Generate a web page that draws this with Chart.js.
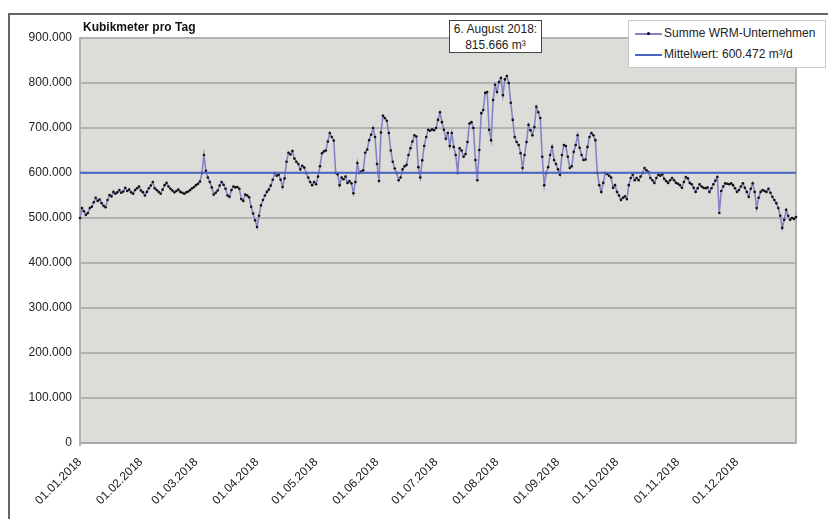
<!DOCTYPE html>
<html lang="de">
<head>
  <meta charset="UTF-8">
  <title>Kubikmeter pro Tag</title>
  <style>
    body {
      margin: 0;
      background: #fff;
      font-family: Arial, 'Liberation Sans', sans-serif;
    }
    .wrap {
      position: relative;
      width: 828px;
      height: 519px;
      overflow: hidden;
    }
    .frame {
      position: absolute;
      left: 8px;
      top: 13px;
      width: 900px;
      height: 600px;
      border-left: 2px solid #666;
      border-top: 2px solid #666;
    }
    canvas {
      position: absolute;
      left: 0;
      top: 0;
    }
    .title {
      position: absolute;
      left: 83px;
      top: 20px;
      font-size: 12px;
      font-weight: bold;
      color: #111;
    }
    .note {
      position: absolute;
      left: 449px;
      top: 20px;
      width: 91px;
      height: 31px;
      border: 1.5px solid #444;
      background: #fff;
      font-size: 12px;
      line-height: 16px;
      text-align: center;
      color: #222;
    }
    .legend {
      position: absolute;
      left: 628px;
      top: 20px;
      width: 196px;
      height: 46px;
      border: 1px solid #c8c8c8;
      background: #fff;
      font-size: 12px;
      color: #222;
    }
    .legend .row {
      position: absolute;
      left: 6px;
      height: 16px;
      line-height: 16px;
      white-space: nowrap;
    }
    .legend .sample {
      display: inline-block;
      position: relative;
      width: 27px;
      height: 2px;
      vertical-align: middle;
      margin-right: 2px;
    }
    .legend .dot {
      position: absolute;
      left: 12px;
      top: -1px;
      width: 3px;
      height: 3px;
      border-radius: 50%;
      background: #000;
    }
  </style>
  <script src="https://cdn.jsdelivr.net/npm/chart.js"></script>
</head>
<body>
  <div class="wrap">
    <div class="frame"></div>
    <canvas id="chart" width="828" height="519"></canvas>
    <div class="title">Kubikmeter pro Tag</div>
    <div class="note">6. August 2018:<br>815.666 m³</div>
    <div class="legend">
      <div class="row" style="top:4px"><span class="sample" style="background:#8484c4"><span class="dot"></span></span>Summe WRM-Unternehmen</div>
      <div class="row" style="top:25px"><span class="sample" style="background:#4a64c4"></span>Mittelwert: 600.472 m³/d</div>
    </div>
  </div>

  <script>
    // daily totals 2018, in thousand m³
    const jan = [500, 522, 515, 507, 511, 522, 525, 535, 545, 538, 541, 533, 527, 524, 540, 551, 548, 558, 554, 557, 562, 556, 559, 567, 560, 563, 557, 554, 562, 566, 570];
    const feb = [561, 557, 550, 558, 566, 572, 580, 566, 562, 558, 554, 563, 573, 578, 570, 565, 561, 557, 560, 563, 558, 556, 554, 557, 559, 562, 566, 569];
    const mar = [573, 576, 581, 600, 640, 605, 590, 580, 568, 552, 556, 561, 572, 580, 574, 565, 550, 547, 562, 570, 568, 569, 565, 542, 538, 552, 550, 546, 525, 510, 495];
    const apr = [480, 505, 528, 540, 550, 558, 563, 572, 585, 600, 594, 596, 585, 569, 588, 625, 645, 641, 649, 632, 625, 620, 608, 616, 612, 600, 590, 580, 573, 580];
    const may = [575, 592, 615, 644, 648, 650, 670, 689, 680, 672, 600, 597, 573, 590, 586, 592, 578, 582, 577, 555, 580, 622, 600, 603, 606, 645, 652, 673, 685, 700, 680];
    const jun = [620, 582, 690, 727, 722, 716, 689, 650, 625, 610, 600, 584, 590, 608, 615, 618, 640, 655, 670, 684, 681, 613, 590, 628, 660, 680, 696, 694, 697, 695];
    const jul = [700, 718, 735, 713, 696, 676, 689, 660, 689, 658, 640, 600, 655, 650, 636, 642, 669, 710, 713, 700, 629, 584, 651, 733, 740, 778, 780, 696, 673, 762, 796];
    const aug = [780, 802, 811, 773, 808, 815.666, 800, 756, 718, 680, 669, 662, 644, 611, 640, 669, 707, 695, 684, 702, 747, 735, 722, 636, 573, 600, 613, 640, 658, 629, 620];
    const sep = [608, 596, 640, 662, 660, 636, 611, 615, 647, 662, 684, 656, 640, 629, 630, 658, 680, 689, 684, 673, 600, 573, 558, 578, 600, 598, 594, 590, 567, 573];
    const oct = [558, 550, 540, 545, 548, 542, 573, 589, 596, 584, 589, 584, 592, 600, 611, 606, 602, 589, 584, 578, 589, 596, 594, 597, 587, 582, 578, 584, 589, 584, 578];
    const nov = [576, 573, 567, 580, 591, 588, 578, 575, 567, 558, 566, 575, 570, 567, 566, 568, 558, 566, 575, 583, 591, 511, 560, 570, 577, 576, 575, 577, 573, 566];
    const dec = [558, 562, 570, 577, 567, 558, 547, 565, 577, 558, 522, 545, 558, 562, 560, 558, 565, 556, 547, 540, 533, 522, 505, 478, 496, 518, 505, 496, 500, 498, 502];

    const mittelwert = 600472;
    const yTicks = [0, 100000, 200000, 300000, 400000, 500000, 600000, 700000, 800000, 900000];

    const months = [jan, feb, mar, apr, may, jun, jul, aug, sep, oct, nov, dec];
    const summe = months.flat().map(v => v * 1000);

    // one label per day, dd.mm.2018
    const labels = [];
    const monthStart = [];
    months.forEach((m, mi) => {
      m.forEach((v, di) => {
        const dd = String(di + 1).padStart(2, '0');
        const mm = String(mi + 1).padStart(2, '0');
        labels.push(dd + '.' + mm + '.2018');
        monthStart.push(di === 0);
      });
    });

    const gridColor = '#b2b2b0';
    const fontFamily = "Arial, 'Liberation Sans', sans-serif";
    const fmt = v => String(v).replace(/\B(?=(\d{3})+(?!\d))/g, '.');

    const plotBg = {
      id: 'plotBg',
      beforeDraw(chart) {
        const a = chart.chartArea;
        const c = chart.ctx;
        c.save();
        c.fillStyle = '#dcdcd8';
        c.fillRect(a.left, a.top, a.right - a.left, a.bottom - a.top);
        c.restore();
      },
      beforeDatasetsDraw(chart) {
        const a = chart.chartArea;
        const c = chart.ctx;
        c.save();
        c.strokeStyle = gridColor;
        c.lineWidth = 2;
        c.beginPath();
        c.moveTo(a.right, a.top);
        c.lineTo(a.right, a.bottom);
        c.stroke();
        c.restore();
      }
    };

    new Chart(document.getElementById('chart'), {
      type: 'line',
      data: {
        labels: labels,
        datasets: [{
          label: 'Mittelwert: 600.472 m³/d',
          data: labels.map(() => mittelwert),
          borderColor: '#4a64c4',
          borderWidth: 2,
          pointRadius: 0,
          order: 0
        }, {
          label: 'Summe WRM-Unternehmen',
          data: summe,
          borderColor: '#8484c4',
          borderWidth: 1.6,
          pointRadius: 1.3,
          pointBackgroundColor: '#111',
          pointBorderColor: '#111',
          pointBorderWidth: 0,
          tension: 0,
          order: 1
        }]
      },
      options: {
        responsive: false,
        animation: false,
        layout: { padding: { left: 0, top: 38, right: 32, bottom: 0 } },
        plugins: {
          legend: { display: false },
          tooltip: { enabled: false }
        },
        scales: {
          x: {
            offset: false,
            grid: {
              color: ctx => monthStart[ctx.index] ? gridColor : 'rgba(0,0,0,0)',
              lineWidth: 2,
              tickLength: 3
            },
            border: { color: '#a8a8a6', width: 2 },
            ticks: {
              autoSkip: false,
              minRotation: 45,
              maxRotation: 45,
              padding: 9,
              color: '#222',
              font: { size: 12, family: fontFamily },
              callback: (v, i) => monthStart[i] ? labels[i] : null
            },
            afterFit: s => { s.height = 76; }
          },
          y: {
            min: 0,
            max: 900000,
            afterBuildTicks: s => { s.ticks = yTicks.map(v => ({ value: v })); },
            grid: { color: gridColor, lineWidth: 2, drawTicks: false },
            border: { color: gridColor, width: 2 },
            ticks: {
              padding: 8,
              color: '#222',
              font: { size: 12, family: fontFamily },
              callback: v => fmt(v)
            },
            afterFit: s => { s.width = 80; }
          }
        }
      },
      plugins: [plotBg]
    });
  </script>
</body>
</html>
